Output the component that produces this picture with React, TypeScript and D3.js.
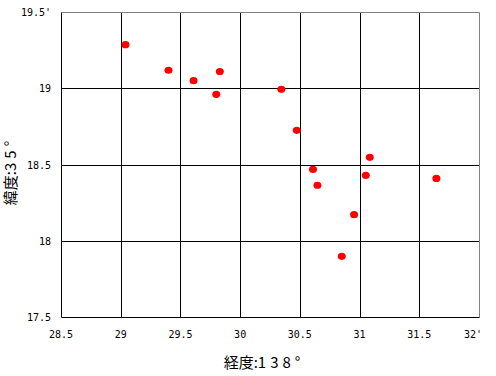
import React from "react";
import * as d3 from "d3";

const lons = [29.04, 29.40, 29.61, 29.83, 29.80, 30.345, 30.474, 31.085, 30.61, 30.647, 31.052, 31.643, 30.954, 30.851];
const lats = [19.286, 19.118, 19.05, 19.11, 18.96, 18.993, 18.724, 18.547, 18.468, 18.364, 18.429, 18.409, 18.171, 17.898];
const xTicks = [28.5, 29, 29.5, 30, 30.5, 31, 31.5, 32];
const yTicks = [17.5, 18, 18.5, 19, 19.5];
const xTitle = ["経度:", "138°"];
const yTitle = ["緯度:", "35°"];

const W = 496, H = 376;
const x = d3.scaleLinear().domain([28.5, 32]).range([61, 479]);
const y = d3.scaleLinear().domain([17.5, 19.5]).range([317, 12]);
const px = (v: number) => Math.round(v) + 0.5;
const tickFont = "'DejaVu Sans Mono', monospace";
const titleFont = "'Noto Sans CJK JP', sans-serif";

export default function App() {
  const fmt = (v: number) => String(v);
  return (
    <svg width={W} height={H} style={{ position: "absolute", left: 0, top: 0, background: "#fff" }}>
      <rect x={0} y={0} width={W} height={H} fill="#fff" />
      {/* grid */}
      {xTicks.slice(1, -1).map((t) => (
        <line key={"gx" + t} x1={px(x(t))} x2={px(x(t))} y1={px(y(19.5))} y2={px(y(17.5))} stroke="#000" strokeWidth={1} />
      ))}
      {yTicks.slice(1, -1).map((t) => (
        <line key={"gy" + t} x1={px(x(28.5))} x2={px(x(32))} y1={px(y(t))} y2={px(y(t))} stroke="#000" strokeWidth={1} />
      ))}
      {/* frame */}
      <line x1={px(x(28.5))} x2={px(x(32))} y1={px(y(19.5))} y2={px(y(19.5))} stroke="#808080" strokeWidth={1} />
      <line x1={px(x(32))} x2={px(x(32))} y1={px(y(19.5))} y2={px(y(17.5))} stroke="#808080" strokeWidth={1} />
      <line x1={px(x(28.5))} x2={px(x(28.5))} y1={px(y(19.5))} y2={px(y(17.5))} stroke="#000" strokeWidth={1} />
      <line x1={px(x(28.5))} x2={px(x(32))} y1={px(y(17.5))} y2={px(y(17.5))} stroke="#000" strokeWidth={1} />
      {/* points */}
      {lons.map((lo, i) => (
        <ellipse key={"p" + i} cx={x(lo)} cy={y(lats[i])} rx={4} ry={3.6} fill="#ff0000" />
      ))}
      {/* x tick labels */}
      {xTicks.map((t, i) => (
        <text key={"xl" + t} x={i === xTicks.length - 1 ? x(t) + 3 : x(t)} y={338} fontFamily={tickFont} fontSize={10}
          textAnchor={i === xTicks.length - 1 ? "end" : "middle"} fill="#000">
          {fmt(t)}{i === xTicks.length - 1 ? "'" : ""}
        </text>
      ))}
      {/* y tick labels */}
      {yTicks.map((t, i) => (
        <text key={"yl" + t} x={51} y={y(t) + 4} fontFamily={tickFont} fontSize={10} textAnchor="end" fill="#000">
          {fmt(t)}{i === yTicks.length - 1 ? "'" : ""}
        </text>
      ))}
      {/* axis titles */}
      <text x={264} y={368} fontFamily={titleFont} fontSize={15} textAnchor="middle" fill="#000">
        <tspan>{xTitle[0]}</tspan>
        <tspan letterSpacing={4}>{xTitle[1]}</tspan>
      </text>
      <text transform={`translate(16,171) rotate(-90)`} fontFamily={titleFont} fontSize={15} textAnchor="middle" fill="#000">
        <tspan>{yTitle[0]}</tspan>
        <tspan letterSpacing={4}>{yTitle[1]}</tspan>
      </text>
    </svg>
  );
}
